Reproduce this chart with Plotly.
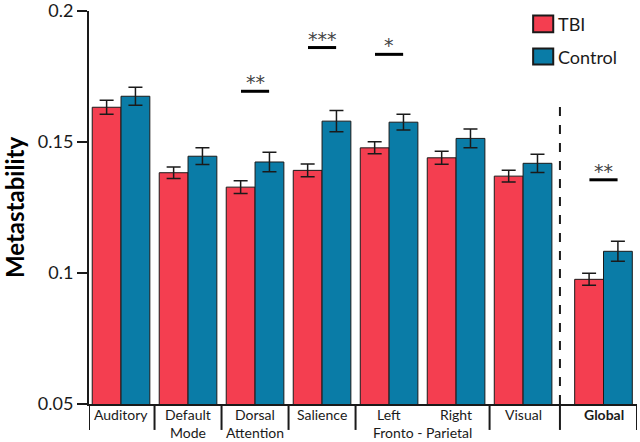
import plotly.graph_objects as go

# ---- data ----
categories = ["Auditory", "Default", "Dorsal", "Salience", "Left", "Right", "Visual", "Global"]
positions = [0, 1, 2, 3, 4, 5, 6, 7.2]
tbi_values = [0.1633, 0.1383, 0.1328, 0.1392, 0.1478, 0.1440, 0.1370, 0.0976]
tbi_err = [0.0027, 0.0022, 0.0024, 0.0024, 0.0023, 0.0025, 0.0022, 0.0023]
ctrl_values = [0.1675, 0.1446, 0.1424, 0.1580, 0.1576, 0.1514, 0.1419, 0.1083]
ctrl_err = [0.0034, 0.0032, 0.0037, 0.0041, 0.0030, 0.0036, 0.0035, 0.0038]

sig_x = [2, 3, 4, 7.2]
sig_y = [0.1694, 0.1861, 0.1835, 0.1356]
sig_text = ["**", "***", "*", "**"]

label_line1 = ["Auditory", "Default", "Dorsal", "Salience", "Left", "Right", "Visual", "<b>Global</b>"]
label_line2 = ["", "Mode", "Attention", "", "", "", "", ""]
fronto_label = "Fronto - Parietal"

y_ticks = [0.05, 0.1, 0.15, 0.2]
y_ticklabels = ["0.05", "0.1", "0.15", "0.2"]

RED = "#F43E50"
BLUE = "#0A7CA7"
FONT = "Lato"
BW = 0.43

fig = go.Figure()
fig.add_trace(go.Bar(
    x=positions, y=tbi_values, width=BW, offset=-BW, base=0,
    marker=dict(color=RED, line=dict(color="#1a1a1a", width=1)),
    error_y=dict(type="data", array=tbi_err, color="#1a1a1a", thickness=1.5, width=7),
    showlegend=False, name="TBI"))
fig.add_trace(go.Bar(
    x=positions, y=ctrl_values, width=BW, offset=0, base=0,
    marker=dict(color=BLUE, line=dict(color="#1a1a1a", width=1)),
    error_y=dict(type="data", array=ctrl_err, color="#1a1a1a", thickness=1.5, width=7),
    showlegend=False, name="Control"))

shapes = []
annotations = []

# significance bars
for sx, sy, st in zip(sig_x, sig_y, sig_text):
    shapes.append(dict(type="line", xref="x", yref="y", x0=sx - 0.21, x1=sx + 0.21,
                       y0=sy, y1=sy, line=dict(color="black", width=3)))
    annotations.append(dict(x=sx, y=sy, xref="x", yref="y", text=st, showarrow=False,
                            yanchor="bottom", yshift=-4,
                            font=dict(family="DejaVu Sans", size=19, color="#444")))

# category separators below the axis
bounds = [(positions[i] + positions[i + 1]) / 2 for i in range(len(positions) - 1)]
for i, b in enumerate(bounds):
    if i == 4:
        continue  # Left / Right share Fronto-Parietal
    if i == 6:
        b = 6.55
    shapes.append(dict(type="line", xref="x", yref="paper", x0=b, x1=b, y0=0, y1=-0.066,
                       line=dict(color="#1a1a1a", width=2)))
# left and right ends
for b in [-0.478, 7.70]:
    shapes.append(dict(type="line", xref="x", yref="paper", x0=b, x1=b, y0=0, y1=-0.066,
                       line=dict(color="#1a1a1a", width=2)))
# dashed divider before Global
shapes.append(dict(type="line", xref="x", yref="y", x0=6.55, x1=6.55, y0=0.05, y1=0.1667,
                   line=dict(color="#1a1a1a", width=2, dash="dash")))

# category labels
for px, l1, l2 in zip(positions, label_line1, label_line2):
    annotations.append(dict(x=px, y=-0.027, xref="x", yref="paper", text=l1, showarrow=False,
                            yanchor="middle", font=dict(family=FONT, size=14, color="#1a1a1a")))
    if l2:
        annotations.append(dict(x=px, y=-0.073, xref="x", yref="paper", text=l2, showarrow=False,
                                yanchor="middle", font=dict(family=FONT, size=14, color="#1a1a1a")))
annotations.append(dict(x=4.5, y=-0.073, xref="x", yref="paper", text=fronto_label, showarrow=False,
                        yanchor="middle", font=dict(family=FONT, size=14, color="#1a1a1a")))

# legend (manual)
for (ya, yb, col, name) in [(0.1983, 0.1919, RED, "TBI"), (0.1857, 0.1796, BLUE, "Control")]:
    shapes.append(dict(type="rect", xref="x", yref="y", x0=6.15, x1=6.45, y0=yb, y1=ya,
                       fillcolor=col, line=dict(color="#1a1a1a", width=2)))
    annotations.append(dict(x=6.49, y=(ya + yb) / 2, xref="x", yref="y", text=name, showarrow=False,
                            xanchor="left", yanchor="middle", font=dict(family=FONT, size=18, color="#1a1a1a")))

fig.update_layout(
    width=640, height=442,
    margin=dict(l=89, r=3, t=11, b=38, autoexpand=False),
    paper_bgcolor="white", plot_bgcolor="white",
    shapes=shapes, annotations=annotations,
    xaxis=dict(range=[-0.478, 7.70], showgrid=False, zeroline=False, showticklabels=False,
               ticks="", showline=True, linecolor="#1a1a1a", linewidth=2),
    yaxis=dict(range=[0.05, 0.20005], showgrid=False, zeroline=False, tickvals=y_ticks,
               ticktext=y_ticklabels, ticks="outside", ticklen=10, tickwidth=2, tickcolor="#1a1a1a",
               showline=True, linecolor="#1a1a1a", linewidth=2, ticklabeloverflow="allow",
               tickfont=dict(family=FONT, size=18, color="#1a1a1a"),
               title=dict(text="<b>Metastability</b>", font=dict(family=FONT, size=24, color="black"),
                          standoff=12)),
)
fig.write_html("out.html", config={"displayModeBar": False},
               post_script="document.body.style.margin='0';document.body.style.overflow='hidden';")
